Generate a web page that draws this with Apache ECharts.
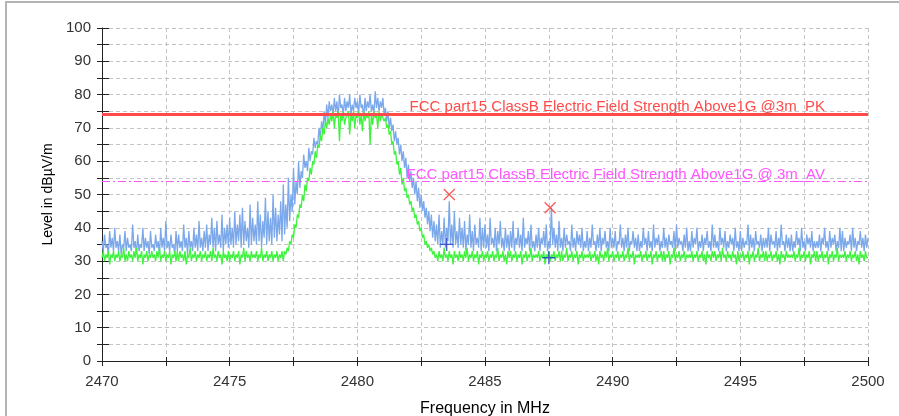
<!DOCTYPE html>
<html>
<head>
<meta charset="utf-8">
<script src="https://cdn.jsdelivr.net/npm/echarts@6/dist/echarts.min.js"></script>
<style>html,body{margin:0;padding:0;background:#fff;}#c{width:899px;height:416px;}</style>
</head>
<body>
<div id="c"></div>
<script>
// Frequency sweep: 2470 .. 2500 MHz, step 0.05 MHz
const freqStart = 2470;
const freqStep = 0.05;

// Peak trace (dBµV/m), one row per MHz (20 points each)
const peakValues = [
 36,33,38,34,35,32,39,34,37,33,40,34,36,33,38,32,35,34,39,33,
 37,34,35,33,41,34,36,32,38,33,35,34,40,33,37,34,36,32,39,34,
 35,33,38,34,36,32,40,34,37,33,42,34,36,33,38,34,35,32,39,33,
 38,34,36,33,41,34,37,32,39,34,36,33,40,34,38,33,42,34,37,33,
 39,34,41,33,38,35,43,34,40,33,42,35,38,34,44,33,40,35,41,34,
 43,35,40,34,45,35,41,36,44,34,46,35,42,36,40,34,47,35,43,36,
 41,35,48,36,44,34,42,37,49,35,45,36,43,35,50,37,46,36,44,38,
 48,36,53,38,47,40,55,42,50,45,58,47,54,50,60,52,57,55,62,58,
 60,57,64,60,63,62,67,64,66,65,70,67,72,69,75,71,77,73,78,75,
 77,74,79,75,78,73,80,76,77,74,79,75,78,76,80,74,77,75,79,76,
 78,74,80,76,77,73,79,75,78,76,80,75,77,74,81,76,79,75,78,76,
 79,74,76,72,75,70,73,69,71,66,69,65,67,62,65,60,63,58,61,55,
 59,54,57,52,55,50,54,48,52,46,50,45,48,43,46,41,45,39,44,37,
 42,36,41,35,44,34,39,35,43,34,40,36,48,35,41,34,45,35,39,34,
 43,35,40,34,42,33,38,35,44,34,39,33,41,35,37,34,43,33,40,34,
 41,34,38,33,43,35,37,34,40,33,39,35,42,34,37,33,40,34,38,33,
 39,34,42,33,37,35,40,34,38,33,43,34,37,35,39,33,41,34,36,33,
 38,34,40,33,37,35,39,34,41,33,36,34,46,35,40,34,38,33,42,34,
 37,33,40,34,38,35,36,33,41,34,37,33,39,35,38,34,40,33,36,34,
 39,33,37,34,41,35,36,33,38,34,40,33,37,35,39,34,36,33,40,34,
 37,34,39,33,36,35,41,34,37,33,38,34,40,33,36,35,39,34,37,33,
 38,33,36,34,40,35,37,33,39,34,36,33,41,34,37,35,38,33,36,34,
 40,34,37,33,38,35,36,34,39,33,41,34,37,35,36,33,38,34,40,33,
 36,33,39,34,37,35,40,33,36,34,38,33,37,35,39,34,36,33,41,34,
 38,34,36,33,40,35,37,34,39,33,36,34,38,35,37,33,40,34,36,33,
 39,33,37,34,36,35,41,33,38,34,37,33,39,35,36,34,38,33,37,34,
 37,34,40,33,38,35,36,34,39,33,37,34,41,35,36,33,38,34,37,33,
 38,33,36,34,39,35,37,33,40,34,36,33,38,35,37,34,39,33,36,34,
 36,34,38,33,37,35,40,34,36,33,39,34,37,35,38,33,36,34,40,33,
 39,33,37,34,36,35,38,33,40,34,37,33,36,35,39,34,37,33,38,34,
 37
];

// Average trace (dBµV/m), one row per MHz (20 points each)
const averageValues = [
 31,33,30,32,31,33,29,32,31,33,30,32,31,33,30,32,31,34,30,32,
 30,33,31,32,30,33,31,34,30,32,31,33,29,32,31,33,30,32,31,33,
 31,32,30,33,31,34,30,32,31,33,30,32,31,33,29,32,31,33,30,33,
 30,33,31,32,30,33,29,32,31,34,30,32,31,33,30,32,31,33,30,32,
 31,33,30,32,31,33,30,34,31,32,30,33,31,32,29,33,31,32,30,33,
 30,32,31,33,30,32,31,33,29,32,31,34,30,33,31,32,30,33,31,32,
 31,33,30,32,31,34,30,32,31,33,30,32,31,33,30,32,31,33,30,32,
 31,33,30,33,32,34,33,36,35,38,37,41,40,44,43,47,46,50,48,53,
 51,55,54,58,56,60,59,63,61,65,64,68,66,70,68,72,70,73,71,74,
 72,75,70,74,73,75,66,74,72,75,71,73,74,75,68,74,72,75,70,74,
 73,75,71,74,69,75,72,74,73,75,65,74,71,75,73,74,70,75,72,74,
 74,72,73,70,71,68,69,65,66,62,63,59,60,56,58,53,55,51,52,49,
 50,47,48,45,46,43,44,41,42,39,40,37,38,35,36,34,35,33,34,32,
 33,31,32,30,33,31,32,30,34,31,32,30,33,31,32,29,33,31,32,30,
 33,31,32,30,33,31,34,30,32,31,33,30,32,31,33,29,32,31,33,30,
 32,31,33,30,32,31,33,30,32,31,34,30,32,31,33,30,32,29,33,31,
 33,30,32,31,33,30,32,31,33,29,32,31,33,30,32,31,34,30,32,31,
 32,31,33,30,32,31,33,29,32,31,33,30,32,31,33,30,32,31,33,30,
 33,30,32,31,34,30,32,31,33,30,32,31,33,29,32,31,33,30,32,31,
 32,31,33,30,32,31,33,30,32,29,33,31,32,30,33,31,34,30,32,31,
 33,30,32,31,33,30,32,31,33,30,32,31,34,30,32,31,33,29,32,31,
 32,31,33,30,32,31,33,30,32,31,33,29,32,31,33,30,32,31,33,30,
 33,30,32,31,33,29,32,31,34,30,32,31,33,30,32,31,33,30,32,31,
 32,31,33,30,32,31,33,30,32,31,33,30,32,29,33,31,32,30,33,31,
 33,30,32,31,33,30,34,31,32,30,33,31,32,30,33,31,32,29,33,30,
 32,31,33,30,32,31,33,29,32,31,33,30,32,31,34,30,32,31,33,30,
 33,30,32,31,33,30,32,31,33,30,32,29,33,31,32,30,33,31,32,31,
 32,31,33,30,32,31,34,30,32,31,33,30,32,31,33,29,32,31,33,30,
 33,30,32,31,33,30,32,31,33,29,32,31,33,30,32,31,34,30,32,31,
 32,31,33,30,32,31,33,30,32,31,33,30,32,29,33,31,32,30,33,31,
 31
];

// Final measurement markers [freq MHz, level]
const peakMarkers = [[2483.6, 50], [2487.55, 46]];
const averageMarkers = [[2483.5, 35], [2487.5, 31]];

// Limits
const limitPK = 74;
const limitAV = 54;
const limitPKLabel = 'FCC part15 ClassB Electric Field Strength Above1G @3m_PK';
const limitAVLabel = 'FCC part15 ClassB Electric Field Strength Above1G @ 3m_AV';

const xTitle = 'Frequency in MHz';
const yTitle = 'Level in dBµV/m';

const FONT = '"Liberation Sans", Arial, sans-serif';

function toPairs(vals) {
  return vals.map((v, i) => [Math.round((freqStart + i * freqStep) * 100) / 100, v]);
}

const chart = echarts.init(document.getElementById('c'), null, {renderer: 'canvas'});

const gridLine = {show: true, lineStyle: {color: '#c4c4c4', type: [4, 3], width: 1}};

chart.setOption({
  animation: false,
  backgroundColor: '#fff',
  textStyle: {fontFamily: FONT},
  graphic: [{
    type: 'rect', silent: true, z: -1,
    shape: {x: 6, y: 2, width: 1200, height: 1200},
    style: {fill: 'none', stroke: '#b4b4b4', lineWidth: 2}
  }],
  grid: {left: 102, right: 31, top: 28, bottom: 55, containLabel: false, outerBoundsMode: 'none'},
  xAxis: [{
    type: 'value', min: 2470, max: 2500, interval: 2.5, position: 'bottom',
    name: xTitle, nameLocation: 'middle', nameGap: 40,
    nameTextStyle: {color: '#000', fontSize: 16, fontFamily: FONT},
    axisLine: {show: true, onZero: false, lineStyle: {color: '#222', width: 1}},
    axisTick: {show: true, length: 5, lineStyle: {color: '#222'}},
    axisLabel: {color: '#333', fontSize: 15, margin: 13, fontFamily: FONT,
      formatter: v => (Math.abs(v % 5) < 1e-6 ? String(v) : '')},
    splitLine: gridLine
  }, {
    type: 'value', min: 2470, max: 2500, interval: 2.5, position: 'bottom',
    axisLine: {show: false},
    axisTick: {show: true, inside: true, length: 4, lineStyle: {color: '#222'}},
    axisLabel: {show: false}, splitLine: {show: false}
  }],
  yAxis: [{
    type: 'value', min: 0, max: 100, interval: 5, position: 'left',
    name: yTitle, nameLocation: 'middle', nameGap: 46, nameRotate: 90,
    nameTextStyle: {color: '#000', fontSize: 14, fontFamily: FONT},
    axisLine: {show: true, lineStyle: {color: '#222', width: 1}},
    axisTick: {show: true, length: 5, lineStyle: {color: '#222'}},
    axisLabel: {color: '#333', fontSize: 15, margin: 11, fontFamily: FONT,
      formatter: v => (v % 10 === 0 ? String(v) : '')},
    splitLine: gridLine
  }, {
    type: 'value', min: 0, max: 100, interval: 5, position: 'left',
    axisLine: {show: false},
    axisTick: {show: true, inside: true, length: 7, lineStyle: {color: '#222'}},
    axisLabel: {show: false}, splitLine: {show: false}
  }],
  series: [
    {
      name: 'PK', type: 'line', data: toPairs(peakValues), showSymbol: false,
      lineStyle: {color: '#7aa8ea', width: 1.3}, itemStyle: {color: '#7aa8ea'}, z: 2
    },
    {
      name: 'AV', type: 'line', data: toPairs(averageValues), showSymbol: false,
      lineStyle: {color: '#3ef23e', width: 1.3}, itemStyle: {color: '#3ef23e'}, z: 3
    },
    {
      name: 'limitPK', type: 'line', data: [], z: 4,
      markLine: {
        silent: true, symbol: 'none',
        data: [{yAxis: limitPK}],
        lineStyle: {color: '#ff4a4a', width: 3, type: 'solid'},
        label: {show: true, position: 'insideEndTop', formatter: limitPKLabel,
          color: '#ff4a4a', fontSize: 15, fontFamily: FONT, distance: [43, 0]}
      }
    },
    {
      name: 'limitAV', type: 'line', data: [], z: 4,
      markLine: {
        silent: true, symbol: 'none',
        data: [{yAxis: limitAV}],
        lineStyle: {color: '#ff55ff', width: 1, type: [8, 3, 2, 3]},
        label: {show: true, position: 'insideEndTop', formatter: limitAVLabel,
          color: '#ff55ff', fontSize: 15, fontFamily: FONT, distance: [43, -1]}
      }
    },
    {
      name: 'PK markers', type: 'scatter', data: peakMarkers, z: 6,
      symbol: 'path://M0,0L10,10M10,0L0,10', symbolSize: 11,
      itemStyle: {color: 'none', borderColor: '#ff3030', borderWidth: 1.3}
    },
    {
      name: 'AV markers', type: 'scatter', data: averageMarkers, z: 6,
      symbol: 'path://M5,0L5,10M0,5L10,5', symbolSize: 13,
      itemStyle: {color: 'none', borderColor: '#1a30d0', borderWidth: 1.3}
    }
  ]
});
</script>
</body>
</html>
